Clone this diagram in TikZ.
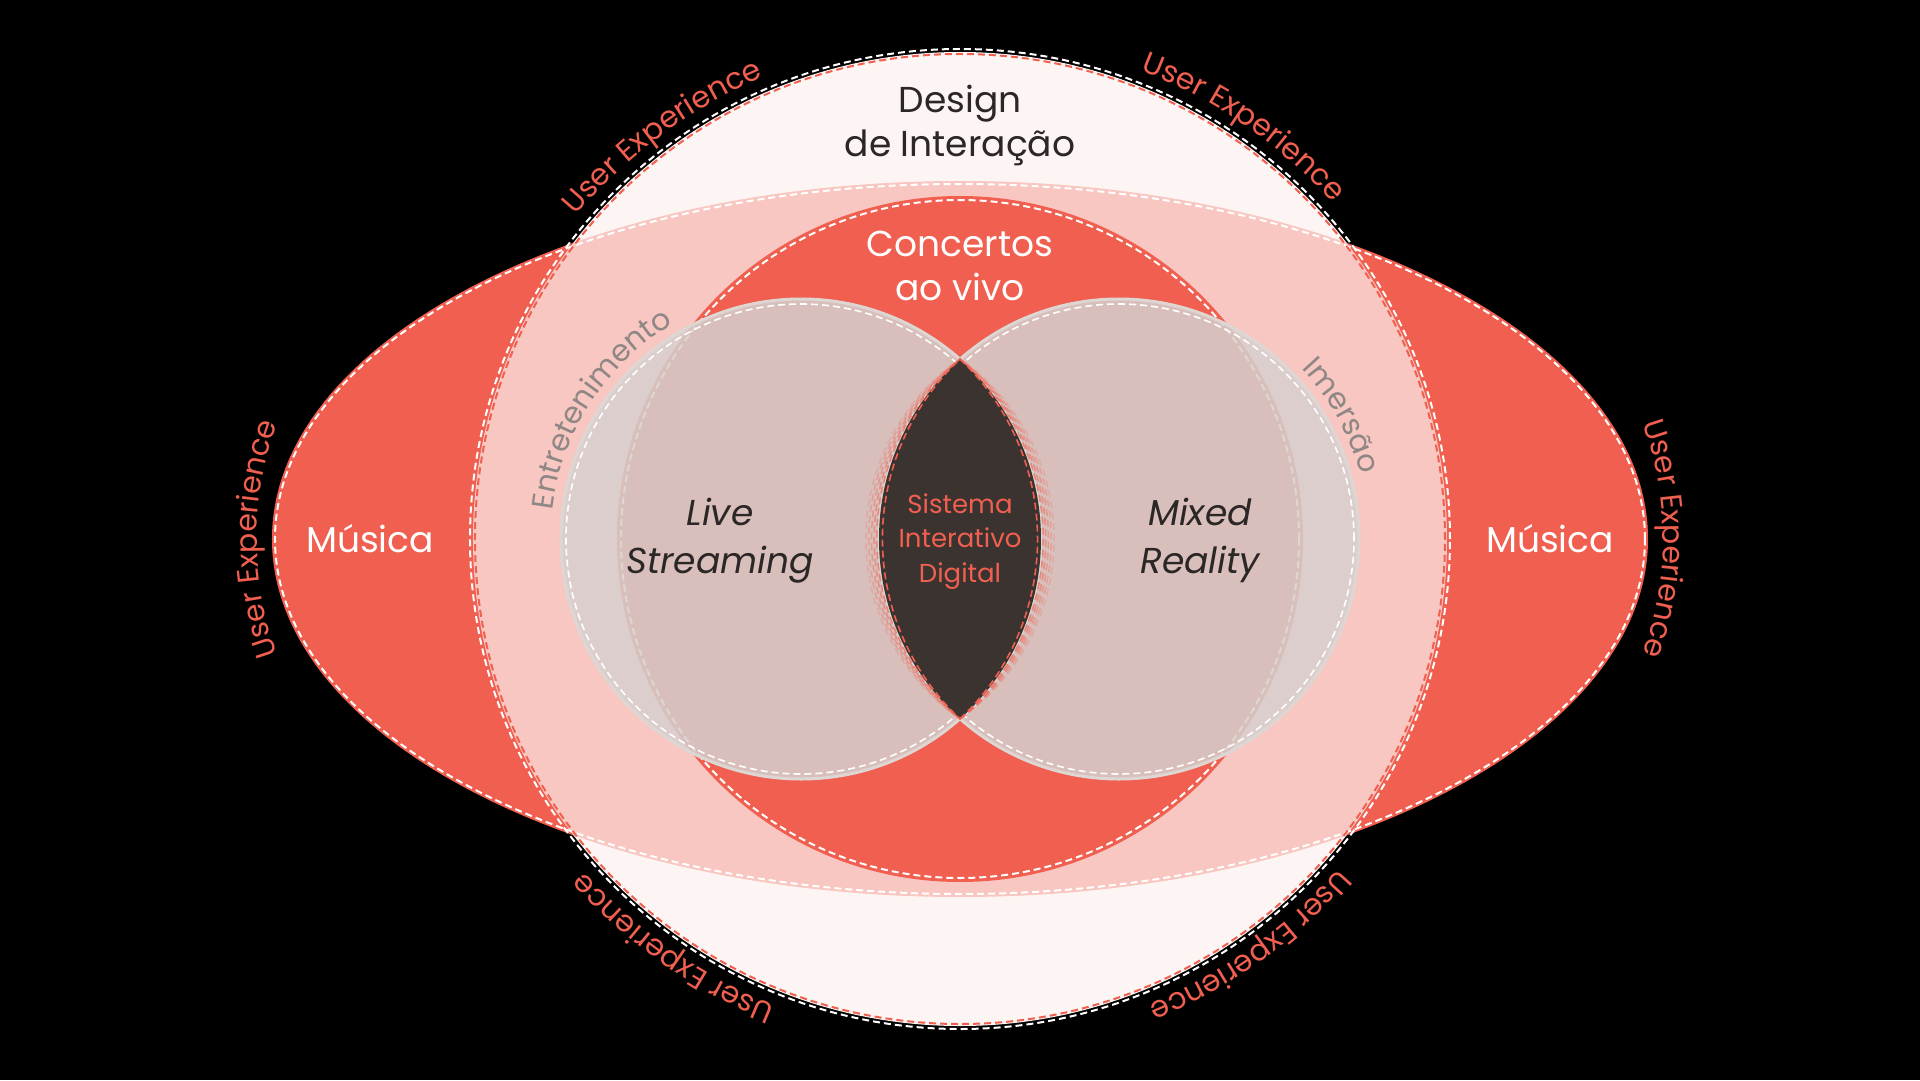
\documentclass[tikz,border=0pt]{standalone}
\usepackage{fontspec}
\setmainfont{Poppins}
\usepackage{xcolor}
\usepackage{tikz}
\usetikzlibrary{decorations.text}

\definecolor{musicred}{HTML}{F05F4F}
\definecolor{designwhite}{HTML}{FDF5F3}
\definecolor{streamgrey}{HTML}{D6D0CE}
\definecolor{streamedge}{HTML}{DDD6D3}
\definecolor{systemdark}{HTML}{3A3330}
\definecolor{inktext}{HTML}{2B2726}
\definecolor{bandtext}{HTML}{8E8785}

\tikzset{
  whitedash/.style={white,line width=2pt,dash pattern=on 7pt off 4pt},
  reddash/.style={musicred,line width=2pt,dash pattern=on 7pt off 4pt},
  bigtext/.style={font=\fontsize{36}{44}\selectfont,align=center,anchor=base},
  uxtext/.style={decorate,decoration={text along path,text align=center,text color=musicred,
      text={|\fontsize{30}{32}\selectfont|User Experience}}},
  bandlabel/.style={decorate,decoration={text along path,text align=center,text color=bandtext,
      text={|\fontsize{30}{32}\selectfont|#1}}}
}

\begin{document}
\begin{tikzpicture}[x=1pt,y=1pt]
  \def\musicellipse{(0,0) ellipse [x radius=688pt,y radius=358pt]}
  \def\designcircle{(0,0) circle (487pt)}
  \def\concertcircle{(0,0) circle (343pt)}
  \def\livecircle{(-159,0) circle (240pt)}
  \def\mixedcircle{(159,0) circle (240pt)}
  \useasboundingbox (-960,-541) rectangle (960,539);
  \fill[black] (-960,-541) rectangle (960,539);
  % Musica and Design de Interacao
  \fill[musicred] \musicellipse;
  \fill[designwhite] \designcircle;
  \fill[musicred,opacity=.3] \musicellipse;
  \draw[whitedash] (0,0) ellipse [x radius=685pt,y radius=355pt];
  \draw[whitedash] (0,0) circle (490pt);
  \draw[reddash] (0,0) circle (485pt);
  % Concertos ao vivo
  \fill[musicred] \concertcircle;
  \draw[whitedash] (0,0) circle (339pt);
  % Live Streaming and Mixed Reality
  \fill[streamgrey,opacity=.85] \livecircle;
  \fill[streamgrey,opacity=.85] \mixedcircle;
  \draw[streamedge,line width=3pt] \livecircle \mixedcircle;
  \draw[whitedash,line width=1.6pt] (-159,0) circle (235pt) (159,0) circle (235pt);
  % Sistema Interativo Digital
  \begin{scope}
    \clip \livecircle;
    \fill[systemdark] \mixedcircle;
  \end{scope}
  \foreach \d/\o in {170/1,153/.6,146/.5,139/.4,132/.3,125/.2}{
    \pgfmathsetmacro\r{10*sqrt((\d/10)^2+324)}
    \pgfmathsetmacro\a{atan(180/\d)}
    \draw[reddash,line width=1.6pt,opacity=\o] (0,-180) arc[start angle=-\a,end angle=\a,radius=\r pt]
      arc[start angle=180-\a,end angle=180+\a,radius=\r pt];
  }
  % labels
  \node[bigtext,text=inktext] (design) at (0,382) {Design\\de Interação};
  \node[bigtext,text=white] (concertos) at (0,239) {Concertos\\ao vivo};
  \node[bigtext,text=white] (musicleft) at (-590,-13) {Música};
  \node[bigtext,text=white] (musicright) at (590,-13) {Música};
  \node[bigtext,text=inktext,font=\fontsize{36}{48}\selectfont\itshape] (live) at (-240,-34) {Live\\Streaming};
  \node[bigtext,text=inktext,font=\fontsize{36}{48}\selectfont\itshape] (mixed) at (240,-34) {Mixed\\Reality};
  \node[bigtext,text=musicred,font=\fontsize{26}{34.5}\selectfont] (system) at (0,-43) {Sistema\\Interativo\\Digital};
  \foreach \a in {126.5,55.5,235,305.5}
    \path[uxtext] ({\a+30}:502pt) arc[start angle=\a+30,end angle=\a-30,radius=502pt];
  \path[uxtext] (-363,0) ++(205:340pt) arc[start angle=205,end angle=155,radius=340pt];
  \path[uxtext] (363,0) ++(25:340pt) arc[start angle=25,end angle=-25,radius=340pt];
  \path[bandlabel=Entretenimento] (-159,0) ++(190:250pt) arc[start angle=190,end angle=104,radius=250pt];
  \path[bandlabel=Imersão] (159,0) ++(62:250pt) arc[start angle=62,end angle=-4,radius=250pt];
\end{tikzpicture}
\end{document}
